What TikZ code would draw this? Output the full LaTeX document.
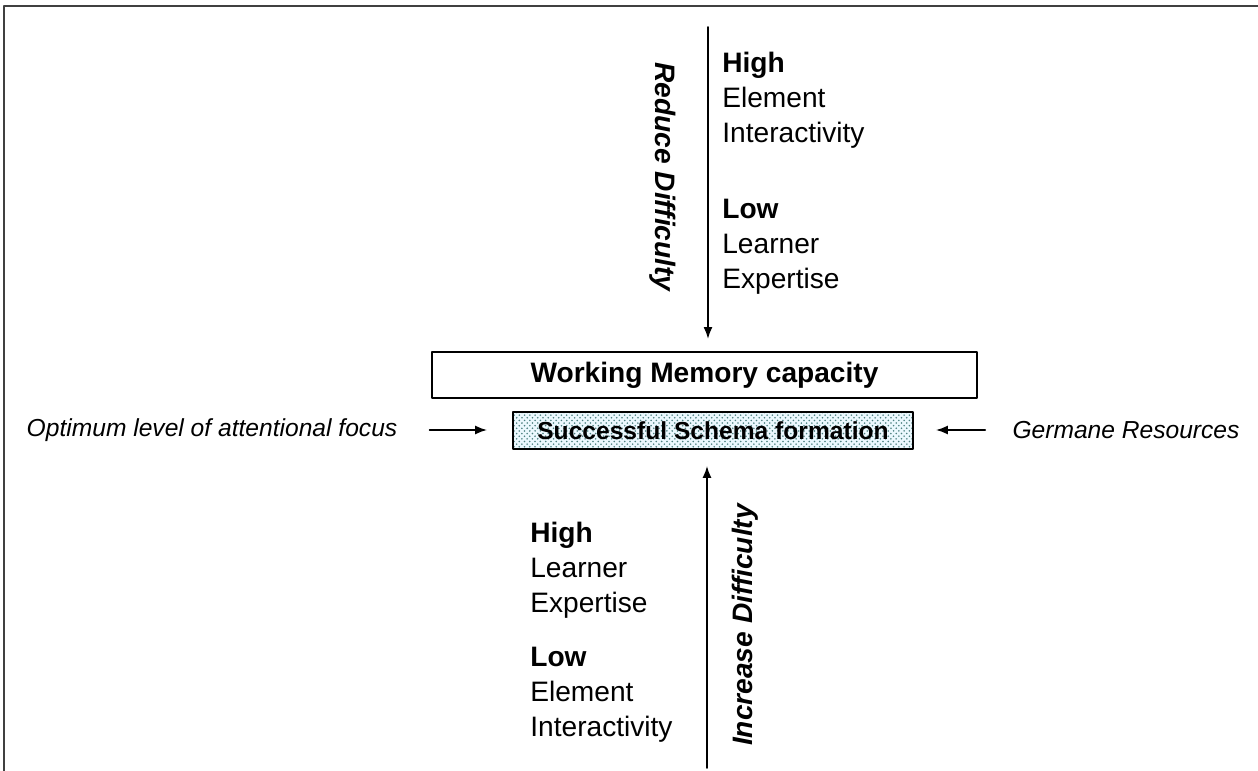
\documentclass[tikz,border=0pt]{standalone}
\usepackage{fontspec}
\setmainfont{Liberation Sans}
\usetikzlibrary{arrows.meta,patterns}

\tikzset{
  arr/.style={-{Latex[length=2.4mm,width=1.8mm]},line width=1pt},
  memorybox/.style={draw,line width=1.1pt,minimum width=10.9cm,minimum height=0.92cm,
    font=\fontsize{16}{19.9}\selectfont\bfseries},
  schemabox/.style={draw,line width=1pt,minimum width=8cm,minimum height=0.74cm,
    preaction={fill=cyan!8},pattern=crosshatch dots,pattern color=teal!40!gray,
    font=\fontsize{14}{17}\selectfont\bfseries},
  sidetext/.style={inner sep=0pt,font=\fontsize{14}{17}\selectfont\itshape},
  axistext/.style={inner sep=0pt,font=\fontsize{16}{19.9}\selectfont\bfseries\itshape},
  listtext/.style={align=left,inner sep=0pt,anchor=north west,font=\fontsize{16}{19.9}\selectfont}
}

\begin{document}
\begin{tikzpicture}[x=1cm,y=1cm,line cap=round,line join=round]
  \useasboundingbox (0,0) rectangle (25.16,-15.42);
  % edges of the outer frame
  \draw[line width=0.8pt,black!75] (0.08,-15.42) -- (0.08,-0.12) -- (25.16,-0.12);

  % the two central boxes
  \node[memorybox] (memory) at (14.09,-7.50) {Working Memory capacity};
  \node[schemabox] (schema) at (14.26,-8.61) {Successful Schema formation};

  % side inputs
  \node[sidetext] (optimum) at (4.24,-8.60) {Optimum level of attentional focus};
  \node[sidetext] (germane) at (22.52,-8.60) {Germane Resources};
  \draw[arr,shorten <=0.64cm,shorten >=0.5cm] (optimum.east) -- (optimum.east -| schema.west);
  \draw[arr,shorten <=0.54cm,shorten >=0.44cm] (germane.west) -- (germane.west -| schema.east);

  % top axis
  \coordinate (topstart) at (14.16,-0.54);
  \draw[arr,shorten >=0.24cm] (topstart) -- (topstart |- memory.north);
  \node[axistext,rotate=-90] (reduce) at (13.26,-3.54) {Reduce Difficulty};
  \node[listtext] (highinter) at (14.44,-1.04) {\textbf{High}\\Element\\Interactivity};
  \node[listtext] (lowexp) at (14.44,-3.98) {\textbf{Low}\\Learner\\Expertise};

  % bottom axis
  \coordinate (bottomstart) at (14.14,-15.36);
  \draw[arr,shorten >=0.32cm] (bottomstart) -- (bottomstart |- schema.south);
  \node[axistext,rotate=90] (increase) at (14.90,-12.50) {Increase Difficulty};
  \node[listtext] (highexp) at (10.60,-10.44) {\textbf{High}\\Learner\\Expertise};
  \node[listtext] (lowinter) at (10.60,-12.94) {\textbf{Low}\\Element\\Interactivity};
\end{tikzpicture}
\end{document}
